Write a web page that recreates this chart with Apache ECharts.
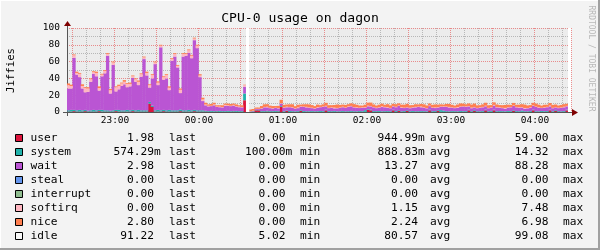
<!DOCTYPE html>
<html><head><meta charset="utf-8">
<script src="https://cdn.jsdelivr.net/npm/echarts@6/dist/echarts.min.js"></script>
<style>html,body{margin:0;padding:0;background:#f3f3f3}#c{width:600px;height:250px}</style>
</head><body><div id="c"></div>
<script>
// ---- time base: first slot starts 22:26, 2-minute slots ----
const startMinute = 26;      // minutes after 22:00
const stepMinutes = 2;

// ---- series values (jiffies), null = unknown ----
const user = [
0.5,0.5,1,0.5,0.5,0.5,1,0.5,0.5,0.5,
0.5,1,0.5,0.5,0.5,0.5,0.5,1,0.5,0.5,
0.5,0.5,0.5,1,0.5,0.5,0.5,0.5,0.5,10,
6,0.5,0.5,0.5,1,0.5,0.5,0.5,0.5,0.5,
1,0.5,0.5,0.5,0.5,1,0.5,0.5,0.5,0.5,
0.3,0.3,0.3,0.5,0.3,0.3,0.3,0.3,0.3,0.5,
0.3,0.3,0.3,14,null,0.2,0.3,2,2,0.3,
0.3,0.5,0.3,0.3,0.3,0.5,6,0.2,1.5,0.2,
0.3,0.2,0.2,1.5,0.2,0.3,0.2,0.2,0.3,0.2,
0.2,0.3,2,0.2,0.2,0.3,0.2,0.2,0.3,0.2,
0.2,0.3,0.2,0.2,0.3,0.2,0.2,2.5,2,0.2,
0.3,0.2,0.2,0.3,0.2,0.2,2,0.2,1.5,0.2,
0.3,1.5,0.2,0.2,0.3,0.2,0.2,0.3,0.2,2,
0.2,0.3,1.5,0.2,0.2,0.3,0.2,0.2,0.3,0.2,
0.2,0.3,0.2,2,0.2,1.5,0.2,0.3,0.2,2,
0.2,0.3,2,0.2,0.2,0.3,0.2,0.2,0.3,1.5,
0.2,0.2,0.3,0.2,0.2,0.3,2,0.2,0.3,0.2,
0.2,0.3,2,0.2,1.5,0.3,0.2,0.2,2,null];

const system = [
1.5,2,1.5,1.5,2,1.5,1.5,1,1.5,2,
1.5,1.5,2,1.5,1.5,1,1.5,1.5,2,1.5,
1.5,2,1.5,1.5,1.5,2,1.5,1.5,1.5,2,
1.5,1.5,2,1.5,1.5,1.5,2,1.5,1.5,1.5,
2,1.5,1.5,2,1.5,1.5,1.5,1.5,1.5,1,
0.8,1,0.8,0.8,1,0.8,0.8,1,0.8,0.8,
1,0.8,0.8,8,null,0.3,0.5,0.5,0.5,0.8,
0.8,1,0.8,0.8,1,0.8,1,0.8,0.6,1,
0.8,0.7,0.9,0.8,1,0.7,0.8,0.9,0.7,0.8,
1,0.8,0.7,0.9,0.8,1,0.7,0.8,0.9,0.7,
0.8,1,0.8,0.7,0.9,0.8,2,0.8,0.7,0.9,
0.8,1,0.7,0.8,0.9,0.8,0.7,1,0.8,0.7,
0.9,0.8,0.8,1,0.7,0.8,0.9,0.8,0.7,1,
0.8,0.9,0.8,2,1.5,0.8,0.7,0.9,0.8,0.7,
1,0.8,0.9,0.7,0.8,1,0.8,0.7,0.9,0.8,
0.8,1,0.7,0.8,0.9,0.8,0.7,1,0.8,0.7,
0.9,0.8,1.5,0.8,0.7,0.9,0.8,0.8,0.7,1,
0.8,0.9,0.7,0.8,1,0.8,0.7,0.9,0.8,null];

const wait = [
26,25.5,62,42.5,39,26,21,22.5,34,43,
40.5,23,40,44,65,20.5,54,22,24.5,29,
31,27,28.5,38,34,29.5,40,61,41.5,17,
32.5,55,29.5,75,36,38,23.5,59,64,51,
19.5,64,65,68,62,83,74,39.5,11,6.5,
5.6,5.7,6.9,4.7,4.4,4.4,6.4,5.9,5.9,6.4,
5.2,4.6,4.4,8,null,0.3,0.5,1,1,3,
4.5,4,3.5,3,3.5,3,3,4,3.5,4.5,
4,3,3.5,4,5,4.5,4,3.5,3,4,
4.5,5,4,3.5,4,3,3.5,4,4.5,4,
5,5.5,4.5,4,3.5,4,3,3.5,4,4.5,
3.5,4,5,4.5,4,3.5,4,4.5,5,4,
3.5,3,3.5,4,4.5,5,4.5,4,3.5,4,
4,3.5,3,4,4.5,5,4.5,4,3.5,4,
5,5.5,5,4,3.5,3,3.5,4,4.5,4,
3.5,4,5,4.5,4,3.5,3,4,4.5,5,
4.5,4,3.5,3,3.5,4,4.5,5,4,3.5,
4,4.5,4,3.5,3,3.5,4,4.5,4,null];

const softirq = [
4,3,3,2,4,3,5,4,3,2,
4,3,2,3,2,4,3,5,4,3,
3,4,3,2,3,4,3,2,3,3,
4,2,3,2,3,4,3,2,3,2,
4,3,2,3,3,2,3,2,2,1,
0.8,0.5,1,0.5,0.8,0.5,1,0.8,0.5,0.8,
0.5,0.8,0.5,2,null,0.2,0.3,0.3,0.3,0.5,
0.5,0.8,0.5,0.5,0.3,0.5,0.5,0.5,0.8,0.4,
0.6,0.5,1,0.5,0.4,0.7,0.5,0.6,0.5,0.8,
0.4,0.5,0.7,0.5,0.6,1,0.5,0.4,0.6,0.5,
0.8,0.5,0.4,0.7,0.5,0.6,0.5,0.8,0.5,0.4,
0.6,0.5,1,0.5,0.7,0.4,0.5,0.6,0.5,0.8,
0.5,0.4,0.6,0.5,0.7,0.5,1,0.5,0.4,0.6,
0.5,0.8,0.5,0.4,0.6,0.5,0.7,0.5,0.6,1,
0.5,0.4,0.6,0.5,0.8,0.5,0.4,0.6,0.5,0.7,
0.5,0.4,0.8,0.5,0.6,0.5,1,0.5,0.4,0.6,
0.5,0.7,0.5,0.8,0.4,0.5,0.6,0.5,0.7,0.4,
0.6,0.5,1,0.5,0.4,0.6,0.5,0.7,0.5,null];

const nice = [
2,1.5,1,1.5,1,2,1,1.5,1,1,
1.5,2,1,1,1,1.5,1,1,1.5,1,
2,1,1.5,1,1,1.5,1,1,1.5,1,
1,1,1.5,1,1,1,1.5,1,1,1,
1.5,1,1,1,1,1,1,1.5,2,2,
1.5,2,2,1.5,1.5,2,1.5,2,2,1.5,
2,1.5,2,0.5,null,2,2,1.5,1.5,2.5,
3,3,2.5,2.5,2,2.5,4,3,2.5,3,
3.5,2.5,3,2,2.5,3,3.5,3,2.5,3,
2,2.5,3.5,3,2.5,3,4,3,2.5,3,
2.5,3,3.5,3,2.5,2,3,3.5,4,3,
2.5,3,3,2.5,3.5,3,2.5,3,2.5,3,
3.5,4,3,2.5,3,2.5,3,3.5,3,2.5,
3,3.5,3,2.5,2,3,3.5,3,2.5,3,
3.5,3,2.5,3,3.5,4,3,2.5,3,3.5,
3,2.5,3,3,2.5,3,3.5,3,2.5,3,
2.5,3,3.5,4,3,2.5,3,3.5,3,2.5,
3,2.5,3,3.5,3,2.5,3,3,2.5,null];

// ---- legend table ----
const legendNames = ['user','system','wait','steal','interrupt','softirq','nice','idle'];
const legendColors = ['#dc143c','#20b2aa','#ba55d3','#6495ed','#8fbc8f','#ffb6c1','#ff7f50','#f8f8f8'];
const lastVals = ['1.98','574.29m','2.98','0.00','0.00','0.00','2.80','91.22'];
const minVals  = ['0.00','100.00m','0.00','0.00','0.00','0.00','0.00','5.02'];
const avgVals  = ['944.99m','888.83m','13.27','0.00','0.00','1.15','2.24','80.57'];
const maxVals  = ['59.00','14.32','88.28','0.00','0.00','7.48','6.98','99.08'];

const titleText = 'CPU-0 usage on dagon';
const yTitle = 'Jiffies';
const watermark = 'RRDTOOL / TOBI OETIKER';

// ---------------------------------------------------------------
const mono = '"DejaVu Sans Mono", monospace';
const minuteOf = i => (22 * 60 + startMinute + i * stepMinutes) % 1440;
const pad2 = n => String(n).padStart(2, '0');
const categories = user.map((_, i) => { const m = minuteOf(i); return pad2(Math.floor(m / 60)) + ':' + pad2(m % 60); });
const unknown = wait.map(v => v === null ? 100 : null);

const majorColor = 'rgba(230,60,60,0.55)';
const minorColor = 'rgba(120,120,120,0.45)';

const stackDefs = [
  ['user', user, legendColors[0]],
  ['system', system, legendColors[1]],
  ['wait', wait, legendColors[2]],
  ['softirq', softirq, legendColors[5]],
  ['nice', nice, legendColors[6]],
  ['unknown', unknown, '#ffffff']
];
const series = stackDefs.map(([name, data, color]) => ({
  name, type: 'bar', stack: 'cpu', data, barWidth: 3.3,
  itemStyle: { color }, silent: true, emphasis: { disabled: true }
}));

const graphic = [];
// frame
graphic.push({ type: 'line', shape: { x1: 0, y1: 0.5, x2: 600, y2: 0.5 }, style: { stroke: '#ffffff', lineWidth: 1 } });
graphic.push({ type: 'line', shape: { x1: 0.5, y1: 0, x2: 0.5, y2: 250 }, style: { stroke: '#ffffff', lineWidth: 1 } });
graphic.push({ type: 'line', shape: { x1: 0, y1: 249, x2: 600, y2: 249 }, style: { stroke: '#a0a0a0', lineWidth: 2 } });
graphic.push({ type: 'line', shape: { x1: 599, y1: 0, x2: 599, y2: 250 }, style: { stroke: '#a0a0a0', lineWidth: 2 } });
// title
graphic.push({ type: 'text', x: 300, y: 19, style: { text: titleText, font: '13.1px ' + mono, fill: '#000', align: 'center', verticalAlign: 'middle' } });
graphic.push({ type: 'text', x: 11, y: 70.5, rotation: Math.PI / 2, style: { text: yTitle, font: '10.7px ' + mono, fill: '#000', align: 'center', verticalAlign: 'middle' } });
graphic.push({ type: 'text', x: 591, y: 58.5, rotation: -Math.PI / 2, style: { text: watermark, font: '8px ' + mono, fill: '#b8b8b8', align: 'center', verticalAlign: 'middle' } });
// axis extensions and arrows
graphic.push({ type: 'line', shape: { x1: 67.5, y1: 112, x2: 67.5, y2: 116 }, style: { stroke: '#555', lineWidth: 1 } });
graphic.push({ type: 'line', shape: { x1: 63, y1: 112.5, x2: 67, y2: 112.5 }, style: { stroke: '#555', lineWidth: 1 } });
graphic.push({ type: 'line', shape: { x1: 67.5, y1: 28, x2: 67.5, y2: 25 }, style: { stroke: '#555', lineWidth: 1 } });
graphic.push({ type: 'line', shape: { x1: 571, y1: 112.5, x2: 573, y2: 112.5 }, style: { stroke: '#555', lineWidth: 1 } });
graphic.push({ type: 'polygon', shape: { points: [[67.5, 21], [64, 26], [71, 26]] }, style: { fill: '#7f0000' } });
graphic.push({ type: 'polygon', shape: { points: [[578, 112.5], [572, 109], [572, 116]] }, style: { fill: '#7f0000' } });

// legend table
const lf = '11.2px ' + mono;
const addText = (x, y, text, align) => graphic.push({ type: 'text', x, y, style: { text, font: lf, fill: '#000', align, verticalAlign: 'middle' } });
const addValue = (xEnd, y, s) => {
  const hasM = s.endsWith('m');
  addText(xEnd, y, hasM ? s.slice(0, -1) : s, 'right');
  if (hasM) addText(xEnd, y, 'm', 'left');
};
legendNames.forEach((name, k) => {
  const y = 138.3 + 14 * k;
  graphic.push({ type: 'rect', shape: { x: 15.5, y: Math.round(y - 4) + 0.5, width: 7, height: 7 }, style: { fill: legendColors[k], stroke: '#000', lineWidth: 1 } });
  addText(30.5, y, name, 'left');
  addValue(154, y, lastVals[k]);
  addText(169, y, 'last', 'left');
  addValue(285.5, y, minVals[k]);
  addText(300, y, 'min', 'left');
  addValue(418, y, avgVals[k]);
  addText(430, y, 'avg', 'left');
  addValue(548.5, y, maxVals[k]);
  addText(563, y, 'max', 'left');
});

const chart = echarts.init(document.getElementById('c'), null, { renderer: 'canvas', width: 600, height: 250 });
chart.setOption({
  backgroundColor: '#f3f3f3',
  animation: false,
  grid: { left: 67, top: 28, width: 504, height: 84, show: true, backgroundColor: '#ececec', borderWidth: 0, containLabel: false, outerBoundsMode: 'none' },
  xAxis: {
    type: 'category', data: categories, boundaryGap: true,
    axisLine: { show: true, onZero: false, lineStyle: { color: '#555', width: 1 } },
    axisTick: { show: false },
    axisLabel: { interval: (i) => minuteOf(i) % 60 === 0, color: '#000', fontFamily: mono, fontSize: 9.5, margin: 4, padding: [0, 2, 0, 0] },
    splitLine: { show: true, interval: (i) => minuteOf(i) % 10 === 0, lineStyle: { color: [majorColor, minorColor, minorColor], type: [1, 1], width: 1 } }
  },
  yAxis: {
    type: 'value', min: 0, max: 100, interval: 10,
    axisLine: { show: true, lineStyle: { color: '#555', width: 1 } },
    axisTick: { show: false },
    axisLabel: { formatter: v => (v % 20 === 0 ? String(v) : ''), color: '#000', fontFamily: mono, fontSize: 9.5, margin: 7 },
    splitLine: { show: true, lineStyle: { color: [majorColor, minorColor], type: [1, 1], width: 1 } }
  },
  series,
  graphic
});
</script></body></html>
